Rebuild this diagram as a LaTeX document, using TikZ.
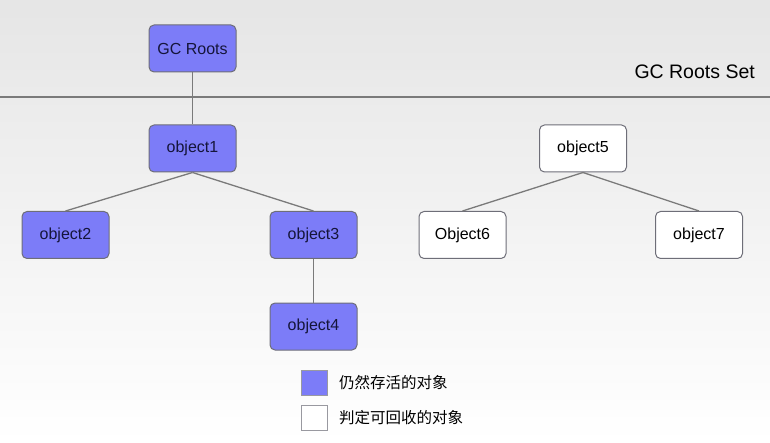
\documentclass[tikz,border=0pt]{standalone}
\usepackage{fontspec}
\setmainfont{Liberation Sans}
\newfontfamily\cjk{Noto Sans CJK SC}
\definecolor{liveblue}{HTML}{7C7CF8}
\definecolor{boxline}{HTML}{6E6E78}
\definecolor{navytext}{HTML}{15153A}
\definecolor{edgegray}{HTML}{7A7A7A}
\begin{document}
\begin{tikzpicture}[x=1pt,y=-1pt,
  objbox/.style={draw=boxline, line width=1pt, rounded corners=5pt, minimum width=87pt, minimum height=47pt, inner sep=0pt, font=\fontsize{16}{19}\selectfont},
  live/.style={objbox, fill=liveblue, text=navytext},
  dead/.style={objbox, fill=white, text=black},
  edge/.style={draw=edgegray, line width=1.3pt},
  legbox/.style={draw=boxline!70, line width=0.8pt, minimum width=26pt, minimum height=25pt, inner sep=0pt},
  legtext/.style={anchor=west, inner sep=0pt, font=\cjk\fontsize{15.5}{18}\selectfont}
]
\useasboundingbox (0,0) rectangle (770,443);
\shade[top color=black!10, bottom color=white] (0,0) rectangle (770,443);
\coordinate (L) at (0,97);
\coordinate (R) at (770,97);
\draw[draw=edgegray, line width=1.3pt] (L) -- (R);
\node[anchor=east, inner sep=0pt, font=\fontsize{19.5}{22}\selectfont] (setlabel) at (755,72) {GC Roots Set};

\node[live] (roots) at (192.5,48.5) {GC Roots};
\node[live] (o1) at (192.5,148.5) {object1};
\node[live] (o2) at (65.5,235) {object2};
\node[live] (o3) at (313.5,235) {object3};
\node[live] (o4) at (313.5,326.5) {object4};
\node[dead] (o5) at (583,148.5) {object5};
\node[dead] (o6) at (462.5,235) {Object6};
\node[dead] (o7) at (699,235) {object7};

\draw[edge] (roots.south) -- (o1.north);
\draw[edge] (o1.south) -- (o2.north);
\draw[edge] (o1.south) -- (o3.north);
\draw[edge] (o3.south) -- (o4.north);
\draw[edge] (o5.south) -- (o6.north);
\draw[edge] (o5.south) -- (o7.north);

\node[legbox, fill=liveblue] (lg1) at (314,383) {};
\node[legbox, fill=white] (lg2) at (314,417.5) {};
\node[legtext] (lt1) at (339,383) {仍然存活的对象};
\node[legtext] (lt2) at (339,418) {判定可回收的对象};
\end{tikzpicture}
\end{document}
